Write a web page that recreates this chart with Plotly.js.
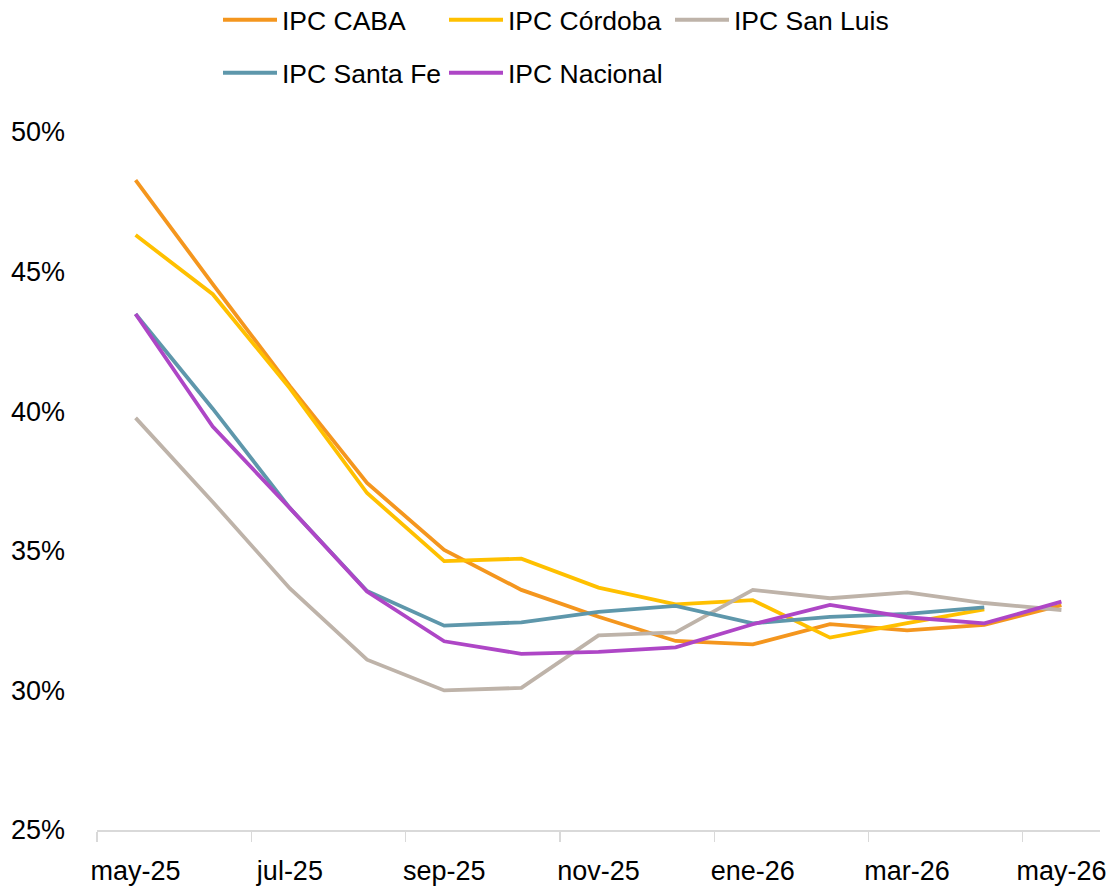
<!DOCTYPE html>
<html>
<head>
<meta charset="utf-8">
<script src="https://cdn.plot.ly/plotly-3.0.1.min.js"></script>
<style>
  html, body { margin: 0; padding: 0; background: #ffffff; }
  #chart { width: 1112px; height: 887px; }
</style>
</head>
<body>
<div id="chart"></div>
<script>
const months = ["may-25","jun-25","jul-25","ago-25","sep-25","oct-25","nov-25","dic-25","ene-26","feb-26","mar-26","abr-26","may-26"];

const ipcCaba     = [48.28, 44.55, 40.90, 37.43, 35.03, 33.60, 32.64, 31.77, 31.65, 32.37, 32.15, 32.35, 33.05];
const ipcCordoba  = [46.31, 44.19, 40.82, 37.07, 34.63, 34.72, 33.68, 33.08, 33.23, 31.89, 32.41, 32.90, null];
const ipcSanLuis  = [39.76, 36.75, 33.65, 31.10, 30.00, 30.09, 31.97, 32.08, 33.60, 33.30, 33.51, 33.13, 32.88];
const ipcSantaFe  = [43.48, 40.09, 36.53, 33.56, 32.32, 32.44, 32.81, 33.03, 32.40, 32.63, 32.74, 32.97, null];
const ipcNacional = [43.48, 39.45, 36.53, 33.54, 31.76, 31.31, 31.38, 31.54, 32.37, 33.06, 32.62, 32.40, 33.18];

const seriesNames  = ["IPC CABA", "IPC Córdoba", "IPC San Luis", "IPC Santa Fe", "IPC Nacional"];
const seriesValues = [ipcCaba, ipcCordoba, ipcSanLuis, ipcSantaFe, ipcNacional];
const seriesColors = ["#F4961E", "#FFC000", "#BEB3A9", "#5E97AB", "#AE46C6"];
const seriesLegend = ["legend", "legend", "legend", "legend2", "legend2"];

const FONT = "Liberation Sans, Arial, sans-serif";

const traces = seriesNames.map((name, i) => ({
  type: "scatter",
  mode: "lines",
  name: name,
  x: months,
  y: seriesValues[i],
  line: { color: seriesColors[i], width: 3.8 },
  connectgaps: false,
  legend: seriesLegend[i],
  hoverinfo: "skip"
}));

const legendCommon = {
  orientation: "h",
  xref: "container",
  yref: "container",
  xanchor: "left",
  yanchor: "middle",
  entrywidth: 157,
  entrywidthmode: "pixels",
  itemwidth: 54,
  font: { family: FONT, size: 26.5, color: "#000000" },
  bgcolor: "rgba(0,0,0,0)",
  traceorder: "normal",
  tracegroupgap: 0
};

const layout = {
  width: 1112,
  height: 887,
  paper_bgcolor: "#ffffff",
  plot_bgcolor: "#ffffff",
  margin: { l: 97, r: 12, t: 132, b: 57 },
  showlegend: true,
  legend: Object.assign({}, legendCommon, { x: 218 / 1112, y: 1 - 20 / 887 }),
  legend2: Object.assign({}, legendCommon, { x: 218 / 1112, y: 1 - 73 / 887 }),
  xaxis: {
    type: "category",
    range: [-0.5, 12.5],
    tickmode: "linear",
    tick0: 0,
    dtick: 2,
    tickson: "boundaries",
    tickangle: 0,
    ticks: "outside",
    ticklen: 10,
    tickwidth: 1.3,
    tickcolor: "#D9D9D9",
    showline: true,
    linecolor: "#D9D9D9",
    linewidth: 1.5,
    showgrid: false,
    zeroline: false,
    ticklabelstandoff: 16,
    tickfont: { family: FONT, size: 27, color: "#000000" },
    fixedrange: true
  },
  yaxis: {
    range: [25, 50],
    tickmode: "linear",
    tick0: 25,
    dtick: 5,
    ticksuffix: "%",
    showgrid: false,
    zeroline: false,
    showline: false,
    ticks: "",
    ticklabelstandoff: 31,
    tickfont: { family: FONT, size: 27, color: "#000000" },
    fixedrange: true
  }
};

Plotly.newPlot("chart", traces, layout, { displayModeBar: false, staticPlot: true });
</script>
</body>
</html>
